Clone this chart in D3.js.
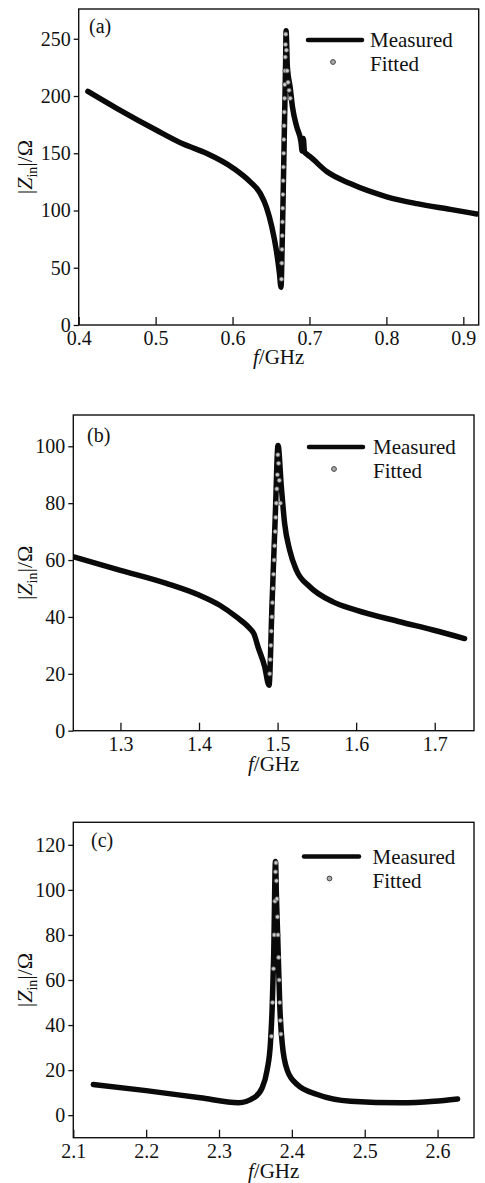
<!DOCTYPE html>
<html>
<head>
<meta charset="utf-8">
<script src="https://cdn.jsdelivr.net/npm/d3@7"></script>
<style>
  html, body { margin: 0; padding: 0; background: #fff; }
  svg { display: block; }
  text { font-family: "Liberation Serif", "Times New Roman", serif; fill: #111; }
</style>
</head>
<body>
<svg id="chart" width="485" height="1183"></svg>
<script>
// ---------- Panel (a) ----------
const aMeasuredF = [0.412,0.450,0.500,0.536,0.566,0.601,0.623,0.636,0.644,0.651,0.657,0.661,0.663,0.6645,0.6660,0.6675,0.6690,0.6696,0.6713,0.6748,0.678,0.6835,0.689,0.6905,0.692,0.6935,0.6950,0.7008,0.7225,0.753,0.8005,0.8395,0.883,0.9175];
const aMeasuredZ = [204,189,170.5,158,150,137,125,115,103,86,65,45,33,70,120,175,230,257,225,208,190,173,160,152,163,151,150,147,134,123.5,112,106,101,97];
const aFittedF = [0.6636,0.6640,0.6643,0.6646,0.6649,0.6652,0.6655,0.6658,0.6661,0.6664,0.6667,0.6670,0.6673,0.6676,0.6679,0.6682,0.6685,0.6688,0.6692,0.6700,0.6710,0.6722,0.6735,0.6750];
const aFittedZ = [40,54,66,78,90,102,114,126,138,150,162,174,186,198,210,222,234,245,254,240,222,212,205,198];
const aXTicks = [0.4,0.5,0.6,0.7,0.8,0.9];
const aYTicks = [0,50,100,150,200,250];

// ---------- Panel (b) ----------
const bMeasuredF = [1.2406,1.300,1.3585,1.400,1.4264,1.4476,1.4645,1.4700,1.4751,1.4836,1.4891,1.4930,1.4970,1.5006,1.5048,1.509,1.5154,1.524,1.541,1.5706,1.600,1.6554,1.6978,1.738];
const bMeasuredZ = [61.1,56.4,51.8,47.7,44.1,40,36,34,29.5,22.5,16,45,75,100.3,85.7,72.8,63.5,56.4,50.6,45.3,42.4,38.3,35.4,32.4];
const bFittedF = [1.4900,1.4907,1.4914,1.4921,1.4928,1.4935,1.4942,1.4949,1.4956,1.4963,1.4970,1.4977,1.4984,1.4991,1.4998,1.5004,1.5012,1.5022,1.5035];
const bFittedZ = [20,25,30,35,40,45,50,55,60,65,70,75,80,85,90,97,94,88,80];
const bXTicks = [1.3,1.4,1.5,1.6,1.7];
const bYTicks = [0,20,40,60,80,100];

// ---------- Panel (c) ----------
const cMeasuredF = [2.1275,2.200,2.2743,2.327,2.3477,2.359,2.366,2.3706,2.373,2.375,2.3775,2.3790,2.3807,2.3835,2.3867,2.3936,2.4073,2.4349,2.4807,2.5495,2.5954,2.6275];
const cMeasuredZ = [13.6,10.9,7.7,5.5,7.7,12,20,32,48,70,112.6,95,78,48,32,20,13.6,9.2,6.2,5.5,6.2,7.2];
const cFittedF = [2.3720,2.3735,2.3748,2.3758,2.3768,2.3776,2.3782,2.3788,2.3795,2.3802,2.3810,2.3818,2.3826,2.3834,2.3842,2.3850];
const cFittedZ = [35,50,65,80,95,108,112,104,96,88,80,70,60,50,42,36];
const cXTicks = [2.1,2.2,2.3,2.4,2.5,2.6];
const cYTicks = [0,20,40,60,80,100,120];

const FONT = '"Liberation Serif", "Times New Roman", serif';
const svg = d3.select("#chart");

function drawPanel(cfg) {
  const x = d3.scaleLinear().domain(cfg.xDomain).range([cfg.left, cfg.right]);
  const y = d3.scaleLinear().domain(cfg.yDomain).range([cfg.bottom, cfg.top]);
  const g = svg.append("g");

  const clipId = "clip-" + cfg.name;
  g.append("clipPath").attr("id", clipId).append("rect")
    .attr("x", cfg.left).attr("y", cfg.top)
    .attr("width", cfg.right - cfg.left).attr("height", cfg.bottom - cfg.top);

  // x axis (ticks inside)
  const xAxis = g.append("g").attr("transform", `translate(0,${cfg.bottom})`)
    .call(d3.axisBottom(x).tickValues(cfg.xTicks).tickSize(-8).tickPadding(6).tickFormat(d3.format(".1f")));
  xAxis.select(".domain").remove();
  xAxis.selectAll(".tick line").attr("stroke", "#111").attr("stroke-width", 1.3);
  xAxis.selectAll(".tick text").style("font-size", "20px").style("font-family", FONT).attr("fill", "#111");

  // y axis (ticks outside)
  const yAxis = g.append("g").attr("transform", `translate(${cfg.left},0)`)
    .call(d3.axisLeft(y).tickValues(cfg.yTicks).tickSize(5).tickPadding(3).tickFormat(d3.format("d")));
  yAxis.select(".domain").remove();
  yAxis.selectAll(".tick line").attr("stroke", "#111").attr("stroke-width", 1.3);
  yAxis.selectAll(".tick text").style("font-size", "20px").style("font-family", FONT).attr("fill", "#111");

  // frame
  g.append("rect").attr("x", cfg.left).attr("y", cfg.top)
    .attr("width", cfg.right - cfg.left).attr("height", cfg.bottom - cfg.top)
    .attr("fill", "none").attr("stroke", "#111").attr("stroke-width", 1.4);

  // measured line
  const line = d3.line().x(d => x(d[0])).y(d => y(d[1])).curve(d3.curveMonotoneX);
  const mData = cfg.mF.map((f, i) => [f, cfg.mZ[i]]);
  g.append("path").datum(mData).attr("clip-path", `url(#${clipId})`)
    .attr("d", line).attr("fill", "none").attr("stroke", "#0a0a0a")
    .attr("stroke-width", 5.5).attr("stroke-linejoin", "round").attr("stroke-linecap", "round");

  // fitted dots
  const fData = cfg.fF.map((f, i) => [f, cfg.fZ[i]]);
  g.append("g").attr("clip-path", `url(#${clipId})`).selectAll("circle").data(fData).join("circle")
    .attr("cx", d => x(d[0])).attr("cy", d => y(d[1])).attr("r", 2.1)
    .attr("fill", "#c8c8c8").attr("stroke", "#555").attr("stroke-width", 0.8);

  // panel label
  g.append("text").attr("x", cfg.labelX).attr("y", cfg.labelY)
    .style("font-size", "20px").style("font-family", FONT).text(cfg.label);

  // legend
  g.append("line").attr("x1", cfg.legX1).attr("x2", cfg.legX2)
    .attr("y1", cfg.legY).attr("y2", cfg.legY)
    .attr("stroke", "#0a0a0a").attr("stroke-width", 4.5).attr("stroke-linecap", "round");
  g.append("text").attr("x", cfg.legTextX).attr("y", cfg.legY + 7)
    .style("font-size", "21px").style("font-family", FONT).text("Measured");
  g.append("circle").attr("cx", (cfg.legX1 + cfg.legX2) / 2 - 2).attr("cy", cfg.legY + 22)
    .attr("r", 2.4).attr("fill", "#aaa").attr("stroke", "#444").attr("stroke-width", 1);
  g.append("text").attr("x", cfg.legTextX).attr("y", cfg.legY + 31)
    .style("font-size", "21px").style("font-family", FONT).text("Fitted");

  // x label
  const xl = g.append("text").attr("x", (cfg.left + cfg.right) / 2).attr("y", cfg.xLabelY)
    .attr("text-anchor", "middle").style("font-size", "21px").style("font-family", FONT);
  xl.append("tspan").attr("font-style", "italic").text("f");
  xl.append("tspan").text("/GHz");

  // y label
  const cy = (cfg.top + cfg.bottom) / 2;
  const yl = g.append("text").attr("transform", `translate(32,${cy}) rotate(-90)`)
    .attr("text-anchor", "middle").style("font-size", "22px").style("font-family", FONT);
  yl.append("tspan").text("|");
  yl.append("tspan").attr("font-style", "italic").text("Z");
  yl.append("tspan").style("font-size", "14px").attr("dy", 5).text("in");
  yl.append("tspan").attr("dy", -5).text("|/Ω");
}

drawPanel({
  name: "a", label: "(a)", left: 78.7, right: 478.7, top: 9, bottom: 325,
  xDomain: [0.4, 0.92], yDomain: [0, 276], xTicks: aXTicks, yTicks: aYTicks,
  mF: aMeasuredF, mZ: aMeasuredZ, fF: aFittedF, fZ: aFittedZ,
  labelX: 89, labelY: 33, legX1: 308, legX2: 362, legY: 40, legTextX: 370,
  xLabelY: 364
});
drawPanel({
  name: "b", label: "(b)", left: 73.3, right: 474, top: 415, bottom: 730.7,
  xDomain: [1.24, 1.75], yDomain: [0, 111], xTicks: bXTicks, yTicks: bYTicks,
  mF: bMeasuredF, mZ: bMeasuredZ, fF: bFittedF, fZ: bFittedZ,
  labelX: 87, labelY: 442, legX1: 309, legX2: 363, legY: 447, legTextX: 373,
  xLabelY: 771
});
drawPanel({
  name: "c", label: "(c)", left: 73.3, right: 474, top: 822.3, bottom: 1137.7,
  xDomain: [2.1, 2.65], yDomain: [-10, 130], xTicks: cXTicks, yTicks: cYTicks,
  mF: cMeasuredF, mZ: cMeasuredZ, fF: cFittedF, fZ: cFittedZ,
  labelX: 91, labelY: 847, legX1: 304, legX2: 359, legY: 856.5, legTextX: 372.5,
  xLabelY: 1178
});
</script>
</body>
</html>
